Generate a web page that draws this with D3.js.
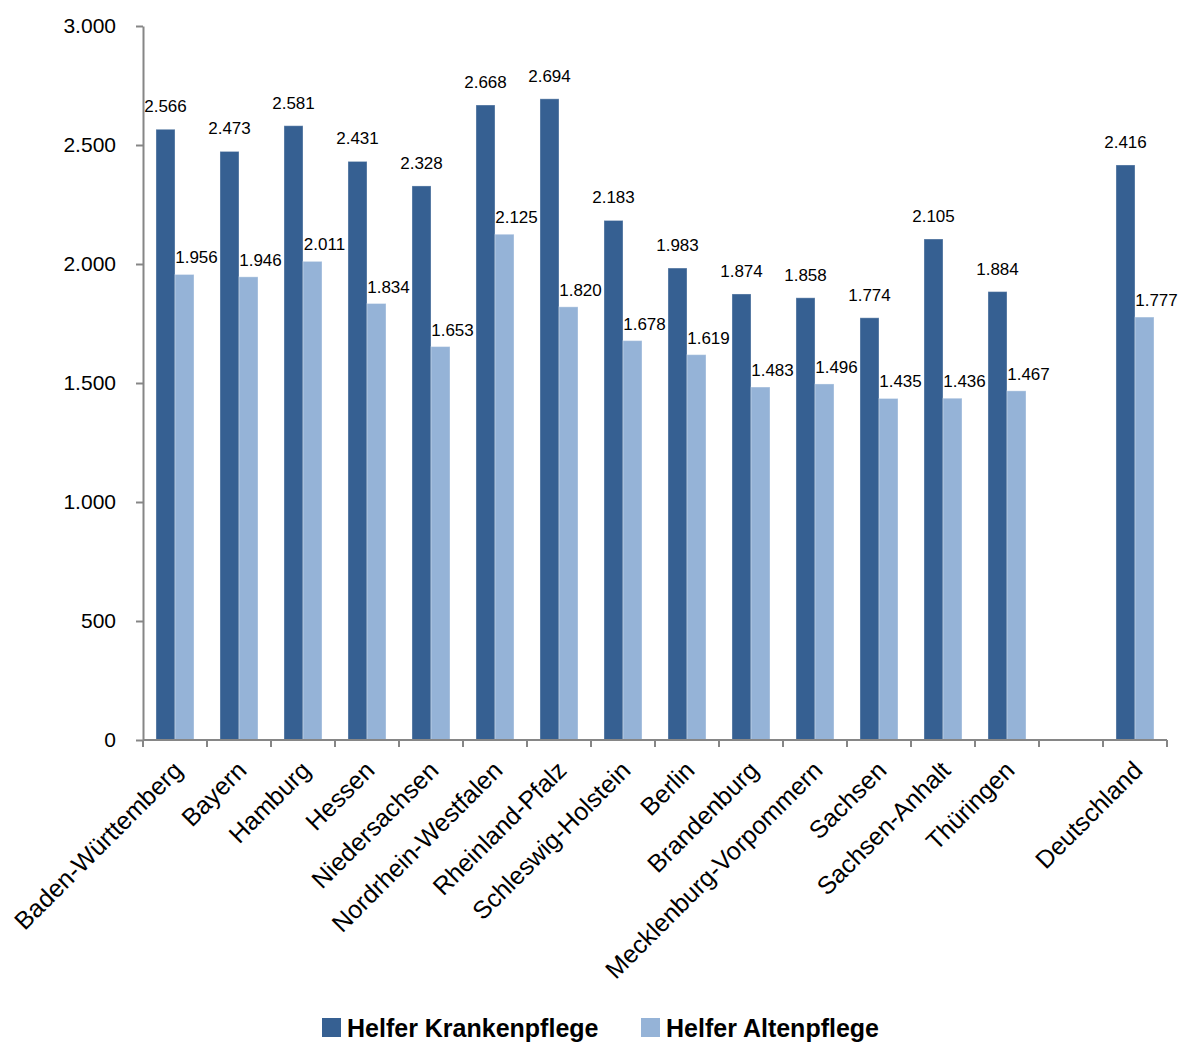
<!DOCTYPE html>
<html>
<head>
<meta charset="utf-8">
<script src="https://cdn.jsdelivr.net/npm/d3@7"></script>
<style>
  html, body { margin: 0; padding: 0; background: #fff; }
  svg { display: block; }
  text { font-family: "Liberation Sans", Arial, sans-serif; fill: #000; }
</style>
</head>
<body>
<svg id="chart" width="1181" height="1043"></svg>
<script>
// Bundesländer; the blank entry keeps a gap before the national value
const categories = [
  "Baden-Württemberg", "Bayern", "Hamburg", "Hessen", "Niedersachsen",
  "Nordrhein-Westfalen", "Rheinland-Pfalz", "Schleswig-Holstein", "Berlin",
  "Brandenburg", "Mecklenburg-Vorpommern", "Sachsen", "Sachsen-Anhalt",
  "Thüringen", "", "Deutschland"
];
const seriesNames = ["Helfer Krankenpflege", "Helfer Altenpflege"];
const krankenpflege = [2566, 2473, 2581, 2431, 2328, 2668, 2694, 2183, 1983, 1874, 1858, 1774, 2105, 1884, null, 2416];
const altenpflege   = [1956, 1946, 2011, 1834, 1653, 2125, 1820, 1678, 1619, 1483, 1496, 1435, 1436, 1467, null, 1777];
const yTicks = [0, 500, 1000, 1500, 2000, 2500, 3000];
const seriesColors = ["#366092", "#95B3D7"];

const de = d3.formatLocale({ decimal: ",", thousands: ".", grouping: [3], currency: ["", " €"] });
const fmt = de.format(",");

const svg = d3.select("#chart");
const margin = { left: 143, right: 1167, top: 26, bottom: 740 };

// unique keys so the empty gap category still gets its own band
const keys = categories.map((c, i) => i);
const x = d3.scaleBand().domain(keys).range([margin.left, margin.right]).paddingInner(0).paddingOuter(0);
const x1 = d3.scaleBand().domain([0, 1]).range([0, x.bandwidth()]).paddingInner(0).paddingOuter(0.684);
const y = d3.scaleLinear().domain([0, 3000]).range([margin.bottom, margin.top]);

const rows = categories.map((c, i) => ({ i, name: c, values: [krankenpflege[i], altenpflege[i]] }));

// bars
const groups = svg.append("g").selectAll("g").data(rows).join("g")
  .attr("transform", d => `translate(${x(d.i)},0)`);

groups.selectAll("rect")
  .data(d => d.values.map((v, s) => ({ v, s })).filter(e => e.v != null))
  .join("rect")
  .attr("x", e => x1(e.s))
  .attr("y", e => y(e.v))
  .attr("width", x1.bandwidth())
  .attr("height", e => y(0) - y(e.v))
  .attr("fill", e => seriesColors[e.s])
  .attr("stroke", "rgba(255,255,255,0.35)")
  .attr("stroke-width", 1);

// value labels
groups.selectAll("text.val")
  .data(d => d.values.map((v, s) => ({ v, s })).filter(e => e.v != null))
  .join("text")
  .attr("class", "val")
  .attr("x", e => x1(e.s) + x1.bandwidth() / 2 + (e.s === 1 ? 12 : 0))
  .attr("y", e => y(e.v) - (e.s === 1 ? 11 : 17))
  .attr("text-anchor", "middle")
  .style("font-size", "17px")
  .text(e => fmt(e.v));

// y axis
const yAxis = svg.append("g")
  .attr("transform", `translate(${margin.left},0)`)
  .call(d3.axisLeft(y).tickValues(yTicks).tickFormat(fmt).tickSize(7).tickSizeOuter(0).tickPadding(20));
yAxis.select(".domain").attr("stroke", "#868686").attr("stroke-width", 2);
yAxis.selectAll(".tick line").attr("stroke", "#868686").attr("stroke-width", 2);
yAxis.selectAll(".tick text")
  .style("font-size", "21px")
  .style("font-family", "'Liberation Sans', Arial, sans-serif")
  .attr("fill", "#000");

// x axis: baseline with tick marks on band boundaries
const xAxis = svg.append("g").attr("transform", `translate(0,${margin.bottom})`);
xAxis.append("line")
  .attr("x1", margin.left).attr("x2", margin.right)
  .attr("stroke", "#868686").attr("stroke-width", 2);
const boundaries = keys.map(k => x(k)).concat([x.range()[1]]);
xAxis.selectAll("line.tk").data(boundaries).join("line")
  .attr("class", "tk")
  .attr("x1", d => d).attr("x2", d => d)
  .attr("y1", 0).attr("y2", 7)
  .attr("stroke", "#868686").attr("stroke-width", 2);

// category labels, rotated
svg.append("g").selectAll("text").data(rows.filter(d => d.name)).join("text")
  .attr("transform", d => `translate(${x(d.i) + x.bandwidth() / 2 + 9},${margin.bottom + 32}) rotate(-45)`)
  .attr("text-anchor", "end")
  .style("font-size", "25px")
  .text(d => d.name);

// legend
const legendX = [322, 641];
const legend = svg.append("g").selectAll("g").data(seriesNames).join("g")
  .attr("transform", (d, i) => `translate(${legendX[i]},1018)`);
legend.append("rect").attr("width", 19).attr("height", 19)
  .attr("fill", (d, i) => seriesColors[i]);
legend.append("text").attr("x", 25).attr("y", 19)
  .style("font-size", "25px").style("font-weight", "bold")
  .text(d => d);
</script>
</body>
</html>
